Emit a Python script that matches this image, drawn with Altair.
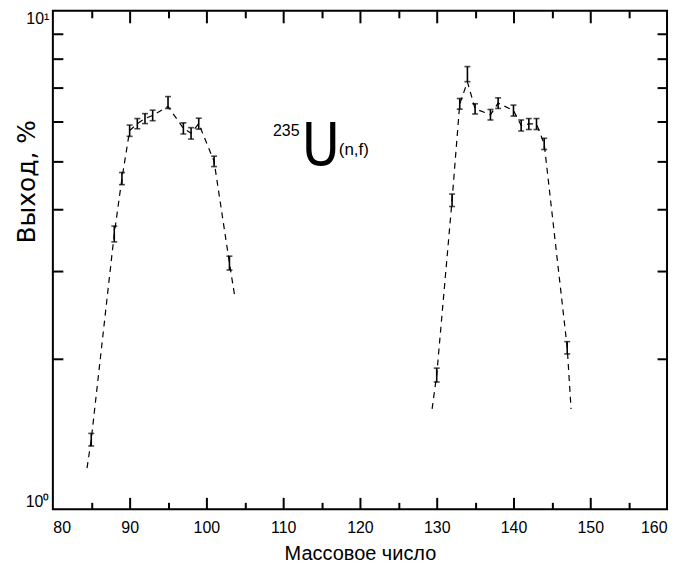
import altair as alt
import pandas as pd

# Measured points (mass number, yield %, error half-width %)
mass = [85, 88, 89, 90, 91, 92, 93, 95, 97, 98, 99, 101, 103,
        130, 132, 133, 134, 135, 137, 138, 140, 141, 142, 143, 144, 147]
yld = [1.38, 3.57, 4.61, 5.75, 5.94, 6.08, 6.17, 6.55, 5.81, 5.68, 5.94, 4.99, 3.12,
       1.86, 4.17, 6.51, 7.47, 6.36, 6.19, 6.53, 6.31, 5.89, 5.93, 5.93, 5.41, 2.11]
err = [0.04, 0.13, 0.13, 0.15, 0.14, 0.14, 0.15, 0.18, 0.15, 0.15, 0.15, 0.12, 0.10,
       0.06, 0.12, 0.16, 0.26, 0.15, 0.15, 0.16, 0.16, 0.15, 0.15, 0.15, 0.14, 0.06]

# Dashed guide curves (light peak and heavy peak)
light_x = [84.45, 85, 88, 89, 90, 91, 92, 93, 95, 97, 98, 99, 101, 103, 103.7]
light_y = [1.21, 1.38, 3.57, 4.61, 5.75, 5.94, 6.08, 6.17, 6.43, 5.81, 5.68, 5.94, 4.99, 3.12, 2.67]
heavy_x = [129.4, 130, 132, 133, 134, 135, 137, 138, 140, 141, 142, 143, 144, 147, 147.5]
heavy_y = [1.59, 1.86, 4.17, 6.51, 7.2, 6.36, 6.19, 6.53, 6.31, 5.89, 5.93, 5.93, 5.41, 2.11, 1.59]

x_major = [90, 100, 110, 120, 130, 140, 150]
x_minor = [85, 95, 105, 115, 125, 135, 145, 155]
x_labels = [80, 90, 100, 110, 120, 130, 140, 150, 160]
y_minor = [2, 3, 4, 5, 6, 7, 8, 9]

W, H = 616, 500

pts = pd.DataFrame({"mass": mass, "yld": yld, "err": err})
pts["lo"] = pts["yld"] - pts["err"]
pts["hi"] = pts["yld"] + pts["err"]
caps = pd.concat([
    pd.DataFrame({"mass": pts["mass"], "yv": pts["lo"]}),
    pd.DataFrame({"mass": pts["mass"], "yv": pts["hi"]}),
])
curve = pd.concat([
    pd.DataFrame({"mass": light_x, "yld": light_y, "peak": "light"}),
    pd.DataFrame({"mass": heavy_x, "yld": heavy_y, "peak": "heavy"}),
])

xs = alt.Scale(domain=[80, 160], nice=False, zero=False)
ys = alt.Scale(type="log", domain=[1, 10], nice=False)
LF = "Liberation Sans"
NARROW = "'Liberation Sans Narrow', 'DejaVu Sans Condensed', 'Liberation Sans', sans-serif"


def inner_x(orient, vals, size):
    return alt.Axis(orient=orient, offset=-H, values=vals, tickSize=size, tickWidth=2,
                    tickColor="black", labels=False, domain=False, grid=False, title=None)


def inner_y(orient, vals, size):
    return alt.Axis(orient=orient, offset=-W, values=vals, tickSize=size, tickWidth=2,
                    tickColor="black", labels=False, domain=False, grid=False, title=None)


line = alt.Chart(curve).mark_line(color="black", strokeWidth=1.2, strokeDash=[6, 5]).encode(
    x=alt.X("mass:Q", scale=xs, axis=alt.Axis(
        orient="bottom", values=x_labels, tickSize=0, domain=False, grid=False,
        labelFont=LF, labelFontSize=16, labelColor="black", labelPadding=10,
        title="Массовое число", titleFont=LF, titleFontSize=20, titleFontWeight="normal",
        titleColor="black", titleY=44, titleBaseline="middle")),
    y=alt.Y("yld:Q", scale=ys, axis=alt.Axis(
        orient="left", values=[1, 10], tickSize=0, domain=False, grid=False,
        labelExpr="datum.value == 1 ? '10⁰' : '10¹'", labelFlush=True,
        labelFont=LF, labelFontSize=16, labelColor="black", labelPadding=4,
        title="Выход,    %", titleFont="DejaVu Sans", titleFontSize=25,
        titleFontWeight="normal", titleColor="black", titleX=-26, titleY=171,
        titleBaseline="middle", titleAlign="center")),
    detail="peak:N",
)

bars = alt.Chart(pts).mark_rule(color="black", strokeWidth=1.6).encode(
    x=alt.X("mass:Q", scale=xs, axis=inner_x("top", x_major, 12)),
    y=alt.Y("lo:Q", scale=ys, axis=inner_y("right", y_minor, 10)),
    y2="hi:Q",
)

capmarks = alt.Chart(caps).mark_tick(color="black", orient="horizontal", size=6, thickness=1.6).encode(
    x=alt.X("mass:Q", scale=xs, axis=inner_x("top", x_minor, 7)),
    y=alt.Y("yv:Q", scale=ys, axis=inner_y("left", y_minor, 10)),
)

lab_x = [110.4, 114.9, 119.2]
lab_y = [5.75, 4.9, 5.25]
lab_t = ["235", "U", "(n,f)"]

t1 = alt.Chart(pd.DataFrame({"x": [lab_x[0]], "y": [lab_y[0]], "t": [lab_t[0]]})).mark_text(
    font=LF, fontSize=16, color="black", baseline="middle").encode(
    x=alt.X("x:Q", scale=xs, axis=inner_x("bottom", x_major, 12)),
    y=alt.Y("y:Q", scale=ys, axis=None), text="t:N")
t2 = alt.Chart(pd.DataFrame({"x": [lab_x[1]], "y": [lab_y[1]], "t": [lab_t[1]]})).mark_text(
    font=NARROW, fontSize=58, fontWeight="normal", color="black", baseline="alphabetic").encode(
    x=alt.X("x:Q", scale=xs, axis=inner_x("bottom", x_minor, 7)),
    y=alt.Y("y:Q", scale=ys, axis=None), text="t:N")
t3 = alt.Chart(pd.DataFrame({"x": [lab_x[2]], "y": [lab_y[2]], "t": [lab_t[2]]})).mark_text(
    font=LF, fontSize=17, color="black", baseline="middle").encode(
    x=alt.X("x:Q", scale=xs, axis=None),
    y=alt.Y("y:Q", scale=ys, axis=None), text="t:N")

chart = alt.layer(line, bars, capmarks, t1, t2, t3).resolve_axis(
    x="independent", y="independent"
).properties(
    width=W, height=H,
    autosize=alt.AutoSizeParams(type="none"),
    padding={"left": 45, "top": 2, "right": 8, "bottom": 56},
    background="white",
).configure_view(stroke="black", strokeWidth=2)

chart.save("out.html", embed_options={"renderer": "svg", "actions": False})
